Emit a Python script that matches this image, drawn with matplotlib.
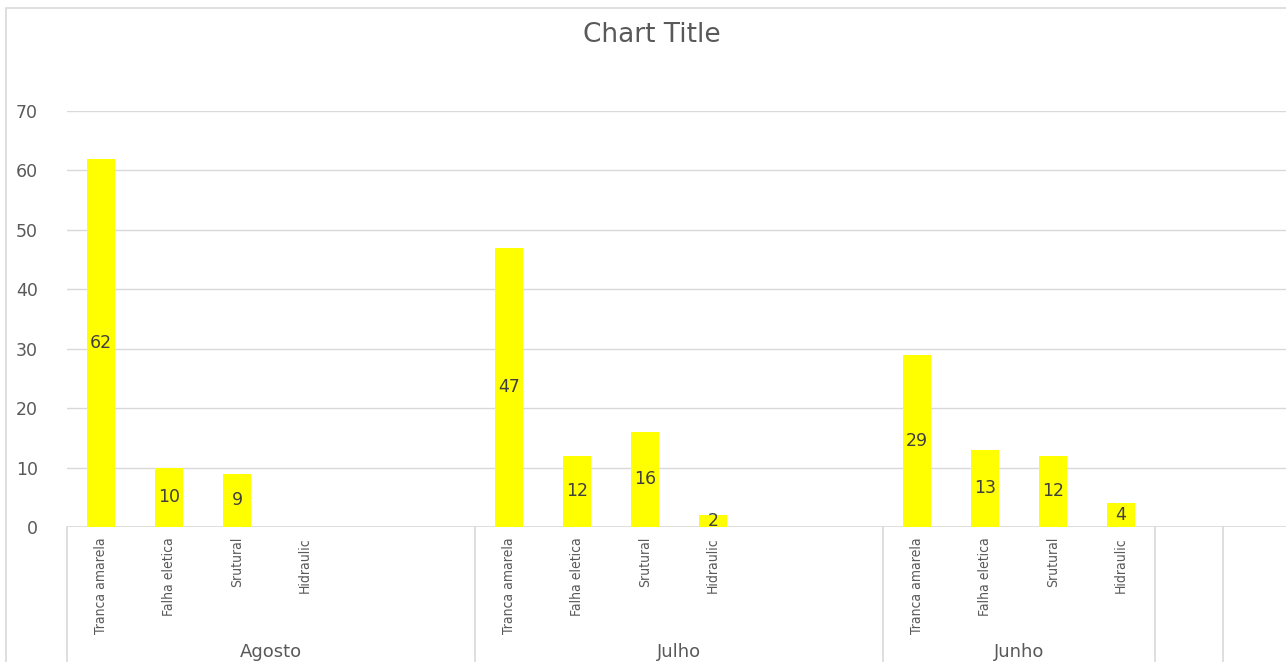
import matplotlib
matplotlib.use("Agg")
import matplotlib.pyplot as plt
import matplotlib.transforms as mtransforms
from matplotlib.patches import Rectangle

# --- data ---
categories = ["Tranca amarela", "Falha eletica", "Srutural", "Hidraulic"]
months = ["Agosto", "Julho", "Junho"]
agosto = [62, 10, 9, None]
julho = [47, 12, 16, 2]
junho = [29, 13, 12, 4]
values = [agosto, julho, junho]

# slot layout (Excel multi-level axis): groups of 6, 6, 4, then two empty groups
group_sizes = [6, 6, 4, 1, 1]

W, H = 1286, 662
fig = plt.figure(figsize=(W / 100, H / 100), dpi=100)
ax = fig.add_axes([67 / W, 135 / H, 1224 / W, 416 / H])

GRID = "#d9d9d9"
TXT = "#595959"

starts = [sum(group_sizes[:i]) for i in range(len(group_sizes))]
for g, vals in enumerate(values):
    for i, v in enumerate(vals):
        x = starts[g] + i
        if v is None:
            continue
        ax.bar(x, v, width=0.4, color="#ffff00", zorder=3)
        ax.text(x, v / 2, str(v), ha="center", va="center", fontsize=12.5,
                color="#404040", zorder=4)

ax.set_xlim(-0.5, sum(group_sizes) - 0.5)
ax.set_ylim(0, 70)
ax.set_yticks(range(0, 71, 10))
ax.yaxis.grid(True, color=GRID, lw=1)
ax.set_axisbelow(True)
for s in ax.spines.values():
    s.set_visible(False)
ax.axhline(0, color=GRID, lw=1.2, zorder=2)
ax.set_xticks([])
ax.tick_params(axis="y", length=0, pad=21, labelsize=12.5, labelcolor=TXT)

# category labels and group separators below the axis
tr = mtransforms.blended_transform_factory(ax.transData, fig.transFigure)
for g, vals in enumerate(values):
    for i, name in enumerate(categories):
        ax.text(starts[g] + i, (H - 537) / H, name, rotation=90, ha="center",
                va="top", fontsize=10, family="DejaVu Sans",
                fontstretch="condensed", color=TXT, transform=tr,
                clip_on=False)
    ax.text(starts[g] + group_sizes[g] / 2 - 0.5, (H - 652) / H, months[g],
            ha="center", va="center", fontsize=13, color=TXT, transform=tr,
            clip_on=False)
for s in starts + [sum(group_sizes)]:
    ax.plot([s - 0.5, s - 0.5], [0, 135 / H], color=GRID, lw=1.2,
            transform=tr, clip_on=False)

# chart area border and title
fig.patches.append(Rectangle((6 / W, -0.1), 1.2, (H - 8) / H + 0.1,
                             transform=fig.transFigure, fill=False,
                             edgecolor=GRID, lw=1.2))
fig.text(652 / W, (H - 35) / H, "Chart Title", ha="center", va="center",
         fontsize=19, color=TXT)

fig.savefig("out.png", dpi=100)
